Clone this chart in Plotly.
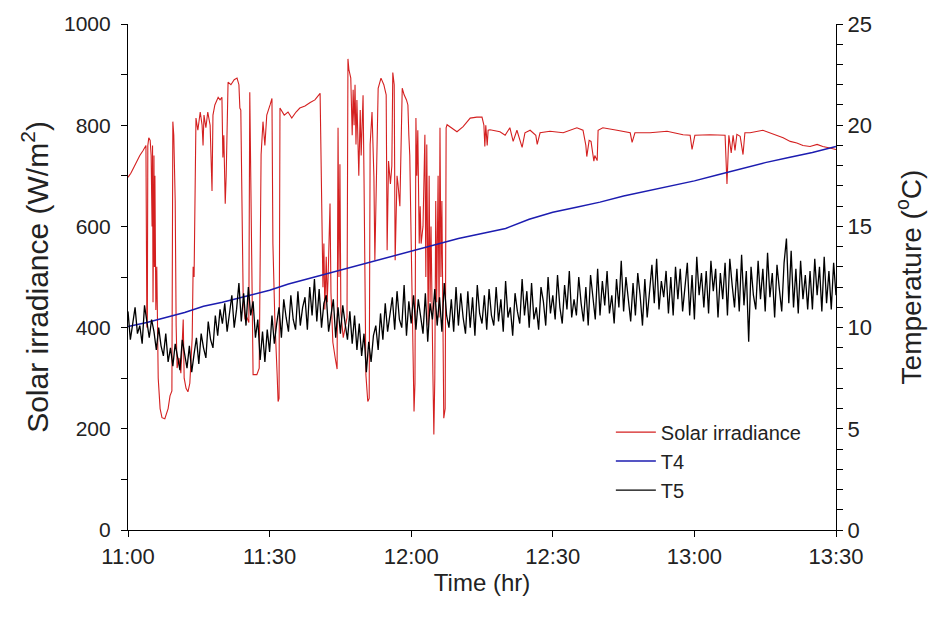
import plotly.graph_objects as go

# ---- data (minutes after 11:00) ----
solar_t = [0, 0.6, 1.3, 1.9, 2.5, 3.2, 3.6, 3.8, 4.0, 4.1, 4.2, 4.4, 4.7, 4.9, 5.1, 5.2, 5.3, 5.5, 5.6, 5.7,
           5.9, 6.1, 6.4, 6.8, 7.2, 7.8, 8.5, 8.9, 9.3, 9.5, 9.7, 10.0, 10.2, 10.4, 10.8, 11.2, 11.7, 11.9, 12.3, 12.7,
           13.1, 13.6, 13.8, 14.0, 14.4, 14.8, 15.3, 15.7, 15.9, 16.1, 16.5, 16.9, 17.4, 17.8, 18.0, 18.4, 19.1, 19.5, 19.9, 20.1,
           20.3, 20.6, 20.8, 21.2, 21.8, 22.5, 23.1, 23.5, 23.7, 23.9, 24.4, 24.8, 25.2, 25.6, 25.8, 26.1, 26.5, 27.3, 27.8, 28.2,
           28.6, 29.0, 29.4, 30.1, 30.5, 30.7, 31.1, 31.6, 31.8, 32.0, 32.2, 33.1, 33.9, 34.7, 35.6, 36.4, 37.5, 38.6, 39.6, 40.7,
           40.9, 41.1, 41.3, 41.5, 41.7, 42.0, 42.2, 42.4, 42.8, 43.0, 43.4, 43.9, 44.3, 44.5, 44.7, 44.9, 45.1, 45.6, 46.0, 46.4,
           46.6, 46.8, 47.2, 47.5, 47.7, 47.9, 48.1, 48.3, 48.5, 48.9, 49.2, 49.4, 49.6, 49.8, 50.0, 50.2, 50.4, 50.8, 51.1, 51.3,
           51.7, 52.1, 52.3, 53.0, 53.6, 54.2, 54.7, 54.9, 55.2, 55.6, 55.9, 56.1, 56.4, 56.6, 57.0, 57.2, 57.6, 58.1, 58.5, 59.0,
           59.3, 59.5, 59.7, 60.0, 60.4, 60.6, 60.8, 61.0, 61.2, 61.4, 61.7, 61.9, 62.1, 62.5, 62.9, 63.1, 63.3, 63.6, 63.8, 64.0,
           64.2, 64.4, 64.6, 64.8, 65.0, 65.2, 65.4, 65.7, 65.9, 66.1, 66.3, 66.5, 66.7, 66.9, 67.2, 67.4, 67.6,
           68.2, 69.7, 71.0, 72.5, 73.9, 75.0, 75.4, 75.6, 75.8, 76.1, 76.3, 76.7, 78.8, 79.9, 80.9, 81.6, 82.4, 83.5, 84.1, 85.2,
           86.4, 86.7, 87.3, 89.4, 92.2, 95.1, 96.4, 97.0, 97.2, 97.7, 98.1, 98.5, 98.7, 98.9, 99.4, 99.6, 100.6, 103.6, 106.4, 106.8,
           107.4, 110.6, 114.2, 117.6, 119.1, 119.5, 120.1, 123.3, 126.5, 126.9, 127.3, 127.8, 128.2, 128.6, 129.0, 129.7, 130.3, 130.7, 131.8, 134.5,
           136.0, 137.5, 138.8, 140.3, 141.7, 143.0, 144.5, 146.0, 147.2, 148.7, 150.0]
solar_w = [697, 705, 718, 730, 740, 750, 756, 760, 400, 420, 760, 775, 770, 740, 600, 760, 450, 740, 520, 700,
           435, 520, 300, 240, 222, 220, 240, 265, 275, 807, 780, 650, 404, 320, 340, 310, 416, 300, 280, 273,
           290, 380, 520, 500, 814, 790, 826, 800, 760, 820, 795, 826, 800, 670, 820, 840, 855, 850, 855, 736,
           780, 645, 700, 885, 880, 890, 893, 880, 834, 830, 460, 416, 420, 410, 865, 670, 307, 307, 320, 742,
           807, 760, 820, 840, 853, 566, 420, 307, 254, 260, 834, 820, 826, 814, 826, 834, 838, 845, 850, 863,
           717, 572, 480, 566, 436, 540, 450, 500, 645, 469, 371, 340, 318, 795, 500, 723, 430, 380, 400, 420,
           931, 910, 893, 780, 870, 800, 880, 762, 850, 700, 830, 740, 800, 859, 697, 420, 307, 254, 260, 762,
           826, 697, 533, 873, 893, 880, 860, 553, 729, 684, 720, 904, 880, 533, 700, 684, 640, 873, 860, 850,
           840, 780, 740, 566, 307, 234, 290, 814, 700, 790, 566, 640, 566, 600, 781, 500, 762, 404, 700, 450,
           600, 404, 307, 189, 300, 650, 450, 700, 420, 795, 500, 650, 400, 221, 240, 795, 801,
           797, 787, 797, 814, 816, 816, 800, 758, 800, 760, 790, 791, 787, 780, 795, 768, 790, 756, 785, 790,
           780, 762, 785, 788, 785, 795, 790, 760, 738, 770, 768, 740, 729, 740, 730, 790, 795, 790, 785, 766,
           785, 785, 788, 781, 780, 752, 780, 781, 780, 684, 780, 745, 780, 750, 782, 778, 742, 785, 785, 790,
           785, 780, 775, 768, 765, 760, 758, 762, 758, 755, 752]

t4_t = [0, 4, 8, 12, 16, 20, 25, 30, 34, 38, 42, 46, 50, 54, 58, 62, 66, 70, 75, 80,
        85, 90, 95, 100, 105, 110, 115, 120, 125, 130, 135, 140, 145, 150]
t4_c = [10.05, 10.25, 10.5, 10.75, 11.05, 11.25, 11.55, 11.85, 12.15, 12.4, 12.65, 12.9, 13.15, 13.4, 13.65, 13.9, 14.15, 14.4, 14.65, 14.9,
        15.35, 15.7, 15.95, 16.2, 16.5, 16.75, 17.0, 17.25, 17.55, 17.85, 18.15, 18.4, 18.65, 18.95]

t5_t = [i * 0.5 for i in range(301)]
t5_c = [10.8, 9.4, 10.2, 11.0, 9.7, 10.1, 9.2, 11.1, 10.3, 9.5,
        10.4, 9.8, 8.9, 10.0, 9.1, 8.6, 9.7, 8.3, 9.0, 8.1,
        9.2, 8.5, 7.9, 9.4, 8.6, 8.0, 9.1, 7.8, 8.7, 9.5,
        8.2, 9.7, 9.0, 8.5, 10.3, 9.4, 9.0, 10.6, 9.6, 10.9,
        10.2, 11.2, 9.8, 10.6, 11.6, 10.0, 10.9, 12.2, 10.3, 11.7,
        10.1, 12.0, 10.6, 11.3, 9.5, 10.4, 8.4, 9.8, 8.3, 9.9,
        8.8, 10.6, 9.2, 10.2, 11.0, 9.5, 11.4, 10.5, 9.8, 11.6,
        10.4, 9.9, 11.8, 10.1, 11.0, 11.5, 9.9, 12.0, 10.6, 12.4,
        10.3, 11.9, 10.0, 11.2, 11.6, 9.8, 10.7, 11.4, 9.5, 11.0,
        9.7, 11.1, 10.2, 9.4, 10.8, 9.2, 10.6, 8.9, 10.2, 8.6,
        9.7, 7.8, 9.3, 8.3, 9.6, 10.1, 8.9, 10.7, 9.4, 11.2,
        9.8, 10.6, 11.5, 9.9, 11.8, 10.4, 10.0, 12.1, 9.6, 11.3,
        10.2, 11.6, 9.9, 11.4, 10.6, 9.7, 11.7, 9.3, 11.2, 10.4,
        11.9, 10.1, 11.5, 9.8, 12.2, 10.6, 10.0, 11.4, 9.8, 12.0,
        10.1, 11.7, 10.5, 9.7, 11.8, 10.0, 11.5, 9.6, 12.1, 10.7,
        10.2, 11.6, 9.9, 11.9, 10.6, 10.1, 12.0, 10.3, 11.4, 9.8,
        12.3, 10.5, 11.0, 9.6, 11.7, 10.8, 10.2, 12.4, 10.6, 11.8,
        10.0, 12.2, 10.4, 11.0, 9.9, 12.0, 11.3, 10.1, 12.5, 10.7,
        11.6, 10.4, 12.6, 11.0, 10.2, 12.1, 10.9, 12.8, 10.5, 11.4,
        10.6, 12.5, 11.2, 10.3, 12.0, 10.1, 12.6, 11.5, 10.4, 12.9,
        10.6, 12.3, 11.1, 12.8, 10.7, 11.6, 10.2, 12.4, 11.0, 13.3,
        10.8, 12.5, 11.4, 10.3, 12.2, 10.6, 12.7, 11.6, 10.1, 12.4,
        10.5, 12.0, 13.1, 11.2, 13.4, 10.9, 12.3, 11.5, 12.8, 10.7,
        12.5, 10.6, 13.0, 11.4, 12.9, 10.8, 12.2, 13.2, 10.6, 12.6,
        10.4, 13.5, 11.6, 12.7, 11.0, 12.8, 10.7, 13.3, 11.8, 12.9,
        10.5, 12.7, 11.4, 13.2, 10.6, 13.4, 12.1, 11.0, 12.9, 10.8,
        13.6, 11.1, 12.8, 9.3, 13.0, 11.6, 10.9, 13.3, 11.4, 12.9,
        10.8, 13.7, 11.5, 12.7, 10.5, 13.1, 11.9, 10.8, 13.2, 14.4,
        11.2, 13.8, 11.0, 12.9, 10.7, 13.3, 11.4, 12.6, 10.9, 12.8,
        10.9, 13.4, 11.6, 13.0, 10.8, 13.5, 11.2, 12.8, 10.9, 13.2,
        11.6]

x_tickvals = [0, 30, 60, 90, 120, 150]
x_ticktext = ["11:00", "11:30", "12:00", "12:30", "13:00", "13:30"]

FONT = "Liberation Sans, Arial, sans-serif"

fig = go.Figure()
fig.add_trace(go.Scatter(x=solar_t, y=solar_w, name="Solar irradiance", mode="lines",
                         line=dict(color="#d42020", width=1.1), yaxis="y"))
fig.add_trace(go.Scatter(x=t4_t, y=t4_c, name="T4", mode="lines",
                         line=dict(color="#1c1cb0", width=1.5), yaxis="y2"))
fig.add_trace(go.Scatter(x=t5_t, y=t5_c, name="T5", mode="lines",
                         line=dict(color="#000000", width=1.3), yaxis="y2"))

axis_common = dict(showgrid=False, zeroline=False, showline=True, linecolor="black", linewidth=1.2,
                   ticks="outside", ticklen=6, tickcolor="black", tickwidth=1.2)

fig.update_layout(
    width=934, height=630,
    margin=dict(l=128, r=98, t=18, b=100),
    paper_bgcolor="white", plot_bgcolor="white",
    font=dict(family=FONT, color="#222222", size=21),
    xaxis=dict(range=[0, 150], tickvals=x_tickvals, ticktext=x_ticktext,
               tickfont=dict(size=22),
               title=dict(text="Time (hr)", font=dict(size=24), standoff=6),
               **axis_common),
    yaxis=dict(range=[0, 1000], dtick=200, tickfont=dict(size=21), ticklabelstandoff=6,
               title=dict(text="Solar irradiance (W/m<sup>2</sup>)", font=dict(size=30), standoff=6),
               minor=dict(dtick=100, ticks="outside", ticklen=6, tickcolor="black"),
               **axis_common),
    yaxis2=dict(range=[0, 25], dtick=5, overlaying="y", side="right", tickfont=dict(size=22),
                title=dict(text="Temperature (<sup>o</sup>C)", font=dict(size=28), standoff=30),
                minor=dict(dtick=1, ticks="outside", ticklen=6, tickcolor="black"),
                **axis_common),
    legend=dict(x=0.682, y=0.232, xanchor="left", yanchor="top", bgcolor="rgba(0,0,0,0)",
                font=dict(size=20), tracegroupgap=0, itemwidth=40),
    showlegend=True,
)

fig.write_html("out.html")
